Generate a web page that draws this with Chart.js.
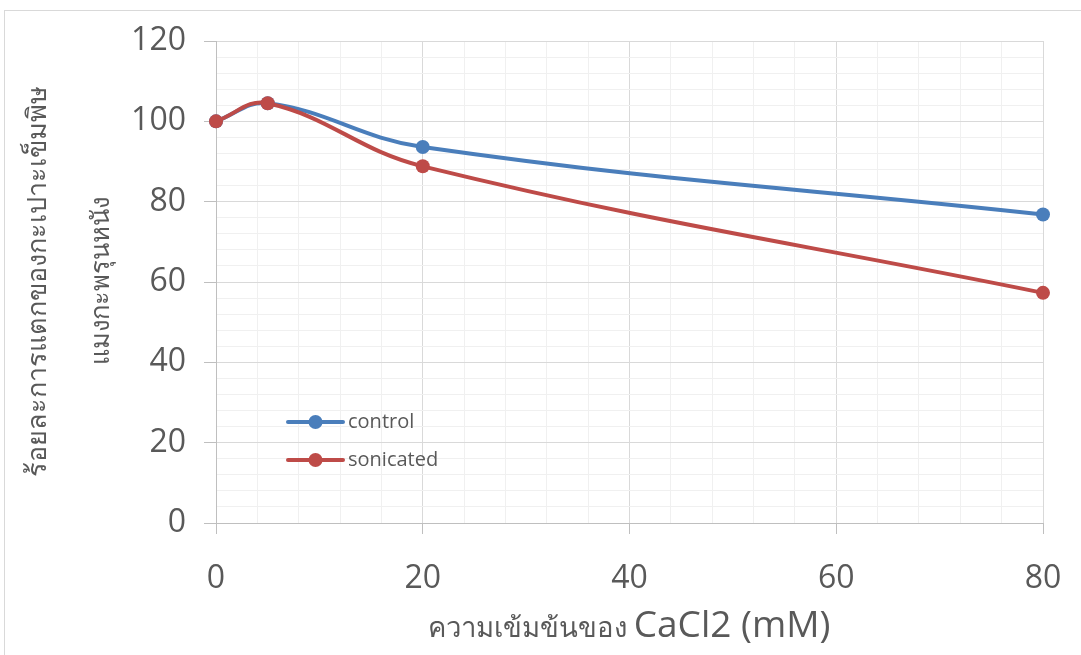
<!DOCTYPE html>
<html>
<head>
<meta charset="utf-8">
<script src="https://cdn.jsdelivr.net/npm/chart.js@4.4.1/dist/chart.umd.min.js"></script>
<style>
  html, body { margin: 0; padding: 0; background: #ffffff; }
  #wrap { width: 1081px; height: 655px; position: relative; overflow: hidden; }
  canvas { display: block; }
</style>
</head>
<body>
<div id="wrap"><canvas id="chart" width="1081" height="655"></canvas></div>
<script>
// CaCl2 concentration (mM)
const concentrations = [0, 5, 20, 80];
// Percent of nematocyst discharge
const controlValues = [100, 104.5, 93.6, 76.8];
const sonicatedValues = [100, 104.5, 88.8, 57.3];
const seriesNames = ['control', 'sonicated'];
const xTickLabels = [0, 20, 40, 60, 80];
const yTickLabels = [0, 20, 40, 60, 80, 100, 120];

const yTitleLines = ['ร้อยละการแตกของกะเปาะเข็มพิษ', 'แมงกะพรุนหนัง'];
const xTitleThai = 'ความเข้มข้นของ ';
const xTitleLatin = 'CaCl2 (mM)';

const TEXT = '#595959';
const BLUE = '#4a7ebb';
const RED = '#be4b48';
const FONT = '"Open Sans", "Noto Sans", sans-serif';

const isMajorX = v => xTickLabels.includes(v);
const isMajorY = v => yTickLabels.includes(v);

function toPoints(values) {
  return concentrations.map((x, i) => ({ x: x, y: values[i] }));
}

const frameAndTitles = {
  id: 'frameAndTitles',
  beforeDraw(chart) {
    const ctx = chart.ctx;
    ctx.save();
    ctx.fillStyle = '#ffffff';
    ctx.fillRect(0, 0, chart.width, chart.height);
    ctx.strokeStyle = '#d9d9d9';
    ctx.lineWidth = 1;
    ctx.strokeRect(4.5, 10.5, chart.width + 20, chart.height + 20);
    ctx.restore();
  },
  afterDraw(chart) {
    const ctx = chart.ctx;
    ctx.save();
    ctx.fillStyle = TEXT;

    // x axis title: Thai part + Latin part, centered together
    const thaiFont = '27.5px ' + FONT;
    const latinFont = '37px ' + FONT;
    ctx.font = thaiFont;
    const w1 = ctx.measureText(xTitleThai).width;
    ctx.font = latinFont;
    const w2 = ctx.measureText(xTitleLatin).width;
    const cx = 629;
    const x0 = cx - (w1 + w2) / 2;
    const base = 637;
    ctx.textBaseline = 'alphabetic';
    ctx.textAlign = 'left';
    ctx.font = thaiFont;
    ctx.fillText(xTitleThai, x0, base);
    ctx.font = latinFont;
    ctx.fillText(xTitleLatin, x0 + w1, base);

    // y axis title: two rotated lines
    const ySizes = [27, 25.5];
    ctx.textAlign = 'center';
    ctx.textBaseline = 'middle';
    const cy = 281;
    const lineX = [38, 102];
    yTitleLines.forEach((line, i) => {
      ctx.save();
      ctx.font = ySizes[i] + 'px ' + FONT;
      ctx.translate(lineX[i], cy);
      ctx.rotate(-Math.PI / 2);
      ctx.fillText(line, 0, 0);
      ctx.restore();
    });

    // legend inside the plot area
    const legendY = [422, 460];
    const lx0 = 288, lx1 = 343, tx = 348;
    chart.data.datasets.forEach((ds, i) => {
      const y = legendY[i];
      ctx.strokeStyle = ds.borderColor;
      ctx.lineWidth = 4;
      ctx.lineCap = 'round';
      ctx.beginPath();
      ctx.moveTo(lx0, y);
      ctx.lineTo(lx1, y);
      ctx.stroke();
      ctx.fillStyle = ds.pointBackgroundColor;
      ctx.beginPath();
      ctx.arc((lx0 + lx1) / 2, y, 7, 0, Math.PI * 2);
      ctx.fill();
      ctx.fillStyle = TEXT;
      ctx.font = '20px ' + FONT;
      ctx.textAlign = 'left';
      ctx.textBaseline = 'middle';
      ctx.fillText(ds.label, tx, y);
    });
    ctx.restore();
  }
};

const gridColor = (ctx, majorTest) => majorTest(ctx.tick.value) ? '#d9d9d9' : '#f0f0f0';
const tickColor = (ctx, majorTest) => majorTest(ctx.tick.value) ? '#bfbfbf' : 'rgba(0,0,0,0)';

new Chart(document.getElementById('chart'), {
  type: 'line',
  data: {
    datasets: [
      {
        label: seriesNames[0],
        data: toPoints(controlValues),
        borderColor: BLUE,
        backgroundColor: BLUE,
        pointBackgroundColor: BLUE,
        pointBorderColor: BLUE,
        borderWidth: 4,
        pointRadius: 7,
        pointBorderWidth: 0,
        tension: 0.4,
        clip: false,
        order: 1
      },
      {
        label: seriesNames[1],
        data: toPoints(sonicatedValues),
        borderColor: RED,
        backgroundColor: RED,
        pointBackgroundColor: RED,
        pointBorderColor: RED,
        borderWidth: 4,
        pointRadius: 7,
        pointBorderWidth: 0,
        tension: 0.4,
        clip: false,
        order: 0
      }
    ]
  },
  options: {
    responsive: false,
    animation: false,
    devicePixelRatio: 1,
    layout: { padding: { left: 0, top: 41, right: 38, bottom: 0 } },
    plugins: {
      legend: { display: false },
      tooltip: { enabled: false },
      title: { display: false }
    },
    scales: {
      x: {
        type: 'linear',
        min: 0,
        max: 80,
        afterFit: s => { s.height = 132; s.paddingLeft = 0; s.paddingRight = 0; },
        border: { color: '#bfbfbf', width: 1 },
        grid: {
          color: c => gridColor(c, isMajorX),
          tickColor: c => tickColor(c, isMajorX),
          tickLength: 11,
          lineWidth: 1
        },
        ticks: {
          stepSize: 4,
          autoSkip: false,
          maxRotation: 0,
          padding: 26,
          color: TEXT,
          font: { family: FONT, size: 32 },
          callback: v => isMajorX(v) ? String(v) : ''
        }
      },
      y: {
        min: 0,
        max: 120,
        afterFit: s => { s.width = 216; s.paddingTop = 0; s.paddingBottom = 0; },
        border: { color: '#bfbfbf', width: 1 },
        grid: {
          color: c => gridColor(c, isMajorY),
          tickColor: c => tickColor(c, isMajorY),
          tickLength: 12,
          lineWidth: 1
        },
        ticks: {
          stepSize: 4,
          autoSkip: false,
          padding: 18,
          color: TEXT,
          font: { family: FONT, size: 32 },
          callback: v => isMajorY(v) ? String(v) : ''
        }
      }
    }
  },
  plugins: [frameAndTitles]
});
</script>
</body>
</html>
